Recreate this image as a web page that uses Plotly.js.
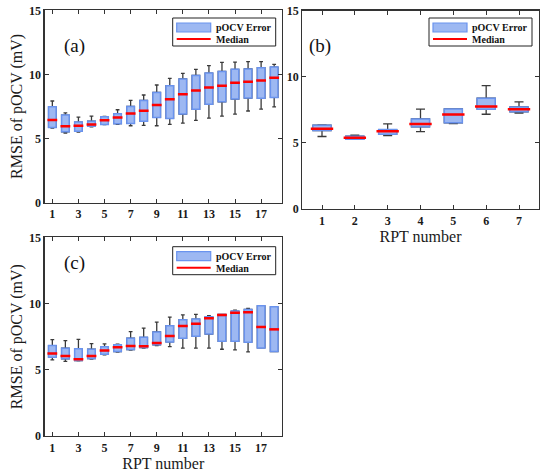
<!DOCTYPE html>
<html>
<head>
<meta charset="utf-8">
<script src="https://cdn.plot.ly/plotly-3.0.1.min.js"></script>
<style>html,body{margin:0;padding:0;background:#fff;}#chart{width:550px;height:474px;}</style>
</head>
<body>
<div id="chart"></div>
<script>
// ---------- data ----------
var rptA = [1,2,3,4,5,6,7,8,9,10,11,12,13,14,15,16,17,18];
var aLower  = [5.80,5.42,5.49,5.91,6.07,6.09,5.99,6.02,5.99,6.09,6.20,6.41,6.59,6.74,6.90,7.14,7.29,7.47];
var aQ1     = [5.86,5.52,5.57,5.96,6.09,6.15,6.17,6.35,6.64,6.56,6.90,7.27,7.66,7.86,8.07,8.15,8.13,8.20];
var aMedian = [6.43,5.96,5.99,6.09,6.41,6.64,6.95,7.16,7.60,8.05,8.44,8.75,8.98,9.11,9.35,9.43,9.53,9.74];
var aQ3     = [7.47,6.82,6.28,6.35,6.69,6.93,7.50,7.97,8.59,9.11,9.64,9.92,10.10,10.23,10.39,10.42,10.52,10.57];
var aUpper  = [7.92,7.00,6.67,6.74,6.72,7.24,7.97,8.39,9.17,9.69,10.08,10.39,10.68,10.94,10.96,10.99,10.99,10.78];

var rptB = [1,2,3,4,5,6,7];
var bLower  = [5.48,5.28,5.55,5.85,6.46,7.16,7.24];
var bQ1     = [5.93,5.28,5.65,6.21,6.51,7.54,7.34];
var bMedian = [6.06,5.38,5.88,6.43,7.14,7.74,7.54];
var bQ3     = [6.33,5.50,6.00,6.81,7.56,8.37,7.71];
var bUpper  = [6.36,5.58,6.43,7.54,7.56,9.32,8.09];

var rptC = [1,2,3,4,5,6,7,8,9,10,11,12,13,14,15,16,17,18];
var cLower  = [5.75,5.63,5.67,5.80,6.13,6.33,6.48,6.63,6.83,6.75,6.63,6.63,6.63,6.55,6.50,6.35,6.65,6.38];
var cQ1     = [5.95,5.83,5.70,5.85,6.18,6.38,6.53,6.68,6.88,7.10,7.38,7.53,7.70,7.15,7.15,7.08,6.65,6.38];
var cMedian = [6.23,6.03,5.80,6.03,6.45,6.70,6.80,6.78,7.03,7.55,8.30,8.48,8.88,9.13,9.30,9.35,8.23,8.05];
var cQ3     = [6.83,6.63,6.58,6.55,6.73,6.88,7.38,7.45,7.85,8.33,8.78,8.83,9.00,9.18,9.43,9.55,9.83,9.75];
var cUpper  = [7.28,7.20,7.30,6.98,6.95,6.93,7.88,8.15,8.60,8.98,9.15,9.18,9.08,9.18,9.50,9.63,9.83,9.75];

var seriesName = 'pOCV Error';
var medianName = 'Median';
var panelLabels = ['(a)', '(b)', '(c)'];
var yTitle = 'RMSE of pOCV (mV)';
var xTitle = 'RPT number';
var yTicks = [0, 5, 10, 15];

// ---------- styles ----------
var SERIF = 'Liberation Serif, Times New Roman, serif';
var BOX_FILL = '#9db8f2';
var BOX_LINE = '#6a93ee';
var WHISKER = '#3a3a3a';
var MED = '#ff0000';

function panel(xs, lo, q1, med, q3, up, ax, w, medSize) {
  var xa = 'x' + ax, ya = 'y' + ax;
  return [
    { // whiskers (black)
      type: 'box', x: xs, q1: q1, median: med, q3: q3, lowerfence: lo, upperfence: up,
      xaxis: xa, yaxis: ya, width: w, whiskerwidth: 0.5,
      line: {color: WHISKER, width: 1.3}, fillcolor: BOX_FILL,
      showlegend: false, hoverinfo: 'skip'
    },
    { // boxes (blue)
      type: 'box', x: xs, q1: q1, median: med, q3: q3, lowerfence: q1, upperfence: q3,
      xaxis: xa, yaxis: ya, width: w, whiskerwidth: 0,
      line: {color: BOX_LINE, width: 1.5}, fillcolor: BOX_FILL,
      name: seriesName, showlegend: false
    },
    { // medians (red)
      type: 'scatter', mode: 'markers', x: xs, y: med, xaxis: xa, yaxis: ya,
      marker: {symbol: 'line-ew', size: medSize, line: {color: MED, width: 2.5}},
      name: medianName, showlegend: false, hoverinfo: 'skip'
    }
  ];
}

var data = []
  .concat(panel(rptA, aLower, aQ1, aMedian, aQ3, aUpper, '', 0.58, 7))
  .concat(panel(rptB, bLower, bQ1, bMedian, bQ3, bUpper, '2', 0.55, 16))
  .concat(panel(rptC, cLower, cQ1, cMedian, cQ3, cUpper, '3', 0.58, 7));

var W = 550, H = 474;
function px(x) { return x / W; }
function py(y) { return 1 - y / H; }

var tickFont = {family: SERIF, size: 12, color: '#1a1a1a', weight: 700};
var titleFont = {family: SERIF, size: 16, color: '#1a1a1a'};

function xAxis(dom, range, dtick, yanchor, withTitle, standoff) {
  var o = {
    domain: dom, range: range, tick0: 1, dtick: dtick, anchor: yanchor,
    showgrid: false, zeroline: false, showline: true, mirror: 'ticks',
    linecolor: '#333', linewidth: 1.2, ticks: 'inside', ticklen: 4, tickcolor: '#333',
    tickfont: tickFont
  };
  if (withTitle) o.title = {text: xTitle, font: titleFont, standoff: standoff};
  return o;
}
function yAxis(dom, xanchor, withTitle) {
  var o = {
    domain: dom, range: [0, 15], tickvals: yTicks, anchor: xanchor,
    showgrid: false, zeroline: false, showline: true, mirror: 'ticks',
    linecolor: '#333', linewidth: 1.2, ticks: 'inside', ticklen: 4, tickcolor: '#333',
    tickfont: tickFont
  };
  if (withTitle) o.title = {text: yTitle, font: titleFont, standoff: 2};
  return o;
}

// Legend boxes (MATLAB style): frame, box swatch, median swatch, labels
var shapes = [], annotations = [];
function addLegend(left, top) {
  var right = left + 103, bottom = top + 28;
  shapes.push({type: 'rect', xref: 'paper', yref: 'paper',
    x0: px(left), x1: px(right), y0: py(bottom), y1: py(top),
    line: {color: '#222', width: 1}, fillcolor: '#fff', layer: 'above'});
  shapes.push({type: 'rect', xref: 'paper', yref: 'paper',
    x0: px(left + 4), x1: px(left + 38), y0: py(top + 14), y1: py(top + 5),
    line: {color: BOX_LINE, width: 1.2}, fillcolor: BOX_FILL, layer: 'above'});
  shapes.push({type: 'line', xref: 'paper', yref: 'paper',
    x0: px(left + 4), x1: px(left + 38), y0: py(top + 21), y1: py(top + 21),
    line: {color: MED, width: 2}, layer: 'above'});
  var f = {family: SERIF, size: 10, color: '#111', weight: 700};
  annotations.push({text: seriesName, xref: 'paper', yref: 'paper', x: px(left + 41), y: py(top + 9.5),
    xanchor: 'left', yanchor: 'middle', showarrow: false, font: f});
  annotations.push({text: medianName, xref: 'paper', yref: 'paper', x: px(left + 41), y: py(top + 21.5),
    xanchor: 'left', yanchor: 'middle', showarrow: false, font: f});
}
addLegend(172.7, 18);
addLegend(429, 18);
addLegend(172.7, 246.7);

var labelFont = {family: SERIF, size: 19, color: '#111'};
annotations.push({text: panelLabels[0], x: px(62), y: py(33), xref: 'paper', yref: 'paper', showarrow: false, font: labelFont});
annotations.push({text: panelLabels[1], x: px(320), y: py(33), xref: 'paper', yref: 'paper', showarrow: false, font: labelFont});
annotations.push({text: panelLabels[2], x: px(62), y: py(263), xref: 'paper', yref: 'paper', showarrow: false, font: labelFont});

var layout = {
  width: W, height: H,
  margin: {l: 0, r: 0, t: 0, b: 0},
  paper_bgcolor: '#fff', plot_bgcolor: '#fff',
  boxmode: 'overlay',
  showlegend: false,
  xaxis:  xAxis([px(44.5), px(282)], [0.4, 18.6], 2, 'y', false, 0),
  yaxis:  yAxis([py(202.5), py(10.3)], 'x', true),
  xaxis2: xAxis([px(302.3), px(538.7)], [0.4, 7.6], 1, 'y2', true, 0),
  yaxis2: yAxis([py(209), py(10.5)], 'x2', false),
  xaxis3: xAxis([px(44.5), px(282)], [0.4, 18.6], 2, 'y3', true, 3),
  yaxis3: yAxis([py(436), py(237.3)], 'x3', true),
  shapes: shapes,
  annotations: annotations
};

Plotly.newPlot('chart', data, layout, {staticPlot: true, displayModeBar: false});
</script>
</body>
</html>
